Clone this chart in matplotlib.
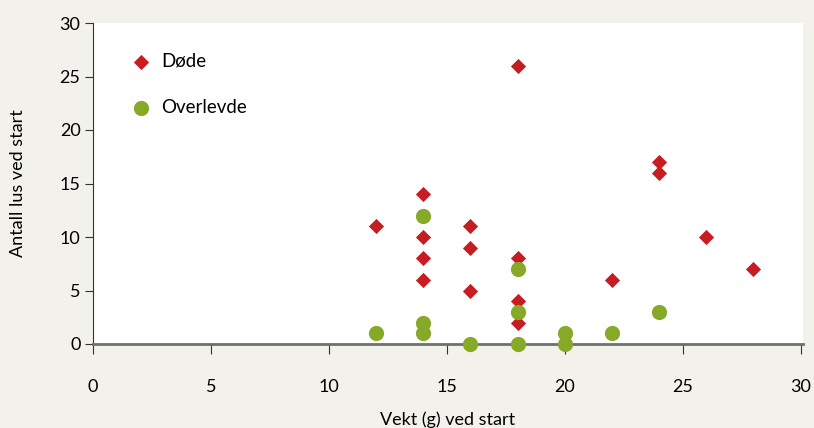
import matplotlib
matplotlib.use("Agg")
import matplotlib.pyplot as plt

# weight (g) and lice count at start
dode_vekt = [12, 14, 14, 14, 14, 16, 16, 16, 18, 18, 18, 18, 22, 24, 24, 26, 28]
dode_lus = [11, 14, 10, 8, 6, 11, 9, 5, 26, 8, 4, 2, 6, 17, 16, 10, 7]

overlevde_vekt = [12, 14, 14, 14, 16, 18, 18, 18, 20, 20, 22, 24]
overlevde_lus = [1, 12, 2, 1, 0, 7, 3, 0, 1, 0, 1, 3]

ticks = [0, 5, 10, 15, 20, 25, 30]

BG = "#f2f1ec"
RED = "#c71c22"
GREEN = "#86a928"

plt.rcParams['font.family'] = ['Lato', 'DejaVu Sans']

fig = plt.figure(figsize=(8.14, 4.28), dpi=100, facecolor=BG)
ax = fig.add_axes([93 / 814, 1 - 344 / 428, 710 / 814, 321 / 428])
ax.set_facecolor("white")

ax.scatter(dode_vekt, dode_lus, marker="D", s=60, color=RED,
           label="Døde", zorder=3, clip_on=False, linewidths=0)
ax.scatter(overlevde_vekt, overlevde_lus, marker="o", s=120, color=GREEN,
           label="Overlevde", zorder=3, clip_on=False, linewidths=0)

ax.set_xlim(0, 30.1)
ax.set_ylim(0, 30)
ax.set_xticks(ticks)
ax.set_yticks(ticks)

for side in ("top", "right"):
    ax.spines[side].set_visible(False)
ax.spines["bottom"].set_color("#6f6f6f")
ax.spines["bottom"].set_linewidth(2)
ax.spines["left"].set_color("#333333")
ax.spines["left"].set_linewidth(0.8)

ax.tick_params(axis="x", direction="out", length=7, width=0.8, color="#333333",
               pad=18, labelsize=13, labelcolor="black")
ax.tick_params(axis="y", direction="out", length=6, width=0.8, color="#333333",
               pad=3, labelsize=13, labelcolor="black")

ax.set_xlabel("Vekt (g) ved start", fontsize=13, labelpad=12)
ax.set_ylabel("Antall lus ved start", fontsize=13, labelpad=24)

leg = ax.legend(loc="upper left", bbox_to_anchor=(0.03, 0.93), frameon=False,
                fontsize=13.5, handletextpad=0.1, labelspacing=1.55,
                scatterpoints=1, borderaxespad=0)

fig.savefig("out.png", dpi=100, facecolor=BG)
